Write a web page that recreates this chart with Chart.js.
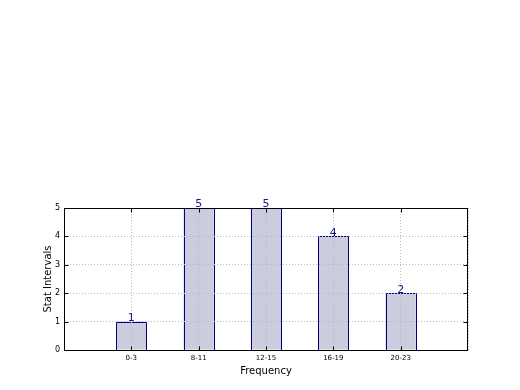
<!DOCTYPE html>
<html>
<head>
<meta charset="utf-8">
<script src="https://cdn.jsdelivr.net/npm/chart.js@4"></script>
<style>
  body { margin: 0; background: #fff; }
  canvas { display: block; }
</style>
</head>
<body>
<canvas id="chart" width="520" height="390"></canvas>
<script>
// padded with empty slots so the axis runs one step past each end
const categories = ['', '0-3', '8-11', '12-15', '16-19', '20-23', ''];
const counts = [null, 1, 5, 5, 4, 2, null];
const yTicks = [0, 1, 2, 3, 4, 5];

const FONT = "'DejaVu Sans', sans-serif";

// crisp bar edges, frame with inward ticks, grid on top of bars, value labels
const overlay = {
    id: 'overlay',
    afterDatasetsDraw(chart) {
        const ctx = chart.ctx;
        const area = chart.chartArea;
        const xs = chart.scales.x, ys = chart.scales.y;

        ctx.save();
        ctx.setLineDash([]);
        ctx.strokeStyle = '#000080';
        ctx.lineWidth = 1;
        chart.getDatasetMeta(0).data.forEach((bar, i) => {
            if (counts[i] === null) return;
            const l = Math.round(bar.x - bar.width / 2) + 0.5;
            const r = Math.round(bar.x + bar.width / 2) + 0.5;
            const t = Math.round(bar.y) + 0.5;
            const b = Math.round(bar.base);
            ctx.beginPath();
            ctx.moveTo(l, b);
            ctx.lineTo(l, t);
            ctx.lineTo(r, t);
            ctx.lineTo(r, b);
            ctx.stroke();
        });
        ctx.restore();

        xs.drawGrid(area);
        ys.drawGrid(area);

        ctx.save();
        ctx.setLineDash([]);
        ctx.strokeStyle = '#000';
        ctx.lineWidth = 1;
        const L = Math.round(area.left) + 0.5, T = Math.round(area.top) + 0.5;
        const R = Math.round(area.right) - 0.5, B = Math.round(area.bottom) + 0.5;
        ctx.strokeRect(L, T, R - L, B - T);

        ctx.beginPath();
        yTicks.forEach(v => {
            const y = Math.round(ys.getPixelForValue(v)) + 0.5;
            ctx.moveTo(L, y); ctx.lineTo(L + 4, y);
            ctx.moveTo(R, y); ctx.lineTo(R - 4, y);
        });
        counts.forEach((v, i) => {
            if (v === null) return;
            const x = Math.round(xs.getPixelForValue(i)) + 0.5;
            ctx.moveTo(x, B); ctx.lineTo(x, B - 4);
            ctx.moveTo(x, T); ctx.lineTo(x, T + 4);
        });
        ctx.stroke();

        ctx.fillStyle = '#1a1a80';
        ctx.font = `11px ${FONT}`;
        ctx.textAlign = 'center';
        ctx.textBaseline = 'bottom';
        counts.forEach((v, i) => {
            if (v === null) return;
            ctx.fillText(String(v), xs.getPixelForValue(i), ys.getPixelForValue(v) + 2);
        });
        ctx.restore();
    }
};

new Chart(document.getElementById('chart'), {
    type: 'bar',
    data: {
        labels: categories,
        datasets: [{
            data: counts,
            backgroundColor: '#ccccdf',
            borderWidth: 0,
            barPercentage: 0.45,
            categoryPercentage: 1
        }]
    },
    options: {
        responsive: false,
        animation: false,
        layout: { padding: { left: 42, top: 208, right: 52, bottom: 13 } },
        plugins: { legend: { display: false }, tooltip: { enabled: false } },
        scales: {
            x: {
                offset: false,
                grid: { color: '#b8b8b8', drawTicks: false, offset: false },
                border: { display: false, dash: [1, 2] },
                ticks: { color: '#000', font: { family: FONT, size: 7 }, padding: 4, autoSkip: false, maxRotation: 0 },
                title: { display: true, text: 'Frequency', color: '#000', font: { family: FONT, size: 10 }, padding: 0 },
                afterFit: s => { s.height = 27; }
            },
            y: {
                min: 0,
                max: 5,
                afterBuildTicks: s => { s.ticks = yTicks.map(v => ({ value: v })); },
                grid: { color: '#b8b8b8', drawTicks: false },
                border: { display: false, dash: [1, 2] },
                ticks: { color: '#000', font: { family: FONT, size: 8 }, padding: 4 },
                title: { display: true, text: 'Stat Intervals', color: '#000', font: { family: FONT, size: 10 }, padding: 0 },
                afterFit: s => { s.width = 22; }
            }
        }
    },
    plugins: [overlay]
});
</script>
</body>
</html>
